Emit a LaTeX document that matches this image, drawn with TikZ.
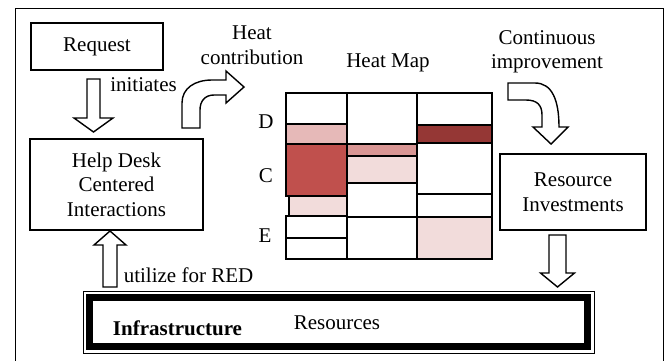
\documentclass[tikz,border=0pt]{standalone}
\usepackage{fontspec}
\setmainfont{Liberation Serif}
\usetikzlibrary{arrows,calc,positioning}

\definecolor{heatlight}{HTML}{F2DCDB}
\definecolor{heatpale}{HTML}{E6B9B8}
\definecolor{heatmid}{HTML}{D99694}
\definecolor{heatred}{HTML}{C0504D}
\definecolor{heatdark}{HTML}{953735}

\tikzset{
  box/.style={draw, line width=1.5pt, inner sep=0pt, outer sep=0pt, align=center},
  lbl/.style={inner sep=0pt, align=center},
  blockarrow/.style={draw, line width=1.4pt, fill=white, line join=miter},
  cell/.style={draw, line width=2.2pt},
}

% vertical block arrow: from #1 to #2, shaft half width #3, head half width #4
\newcommand{\vblock}[4]{%
  \draw[blockarrow] let \p1=(#1), \p2=(#2), \n1={(\y2-\y1)/abs(\y2-\y1)} in
    (\x1-#3pt,\y1) -- (\x1-#3pt,\y2-\n1*14pt) -- (\x1-#4pt,\y2-\n1*14pt) -- (\x2,\y2)
    -- (\x1+#4pt,\y2-\n1*14pt) -- (\x1+#3pt,\y2-\n1*14pt) -- (\x1+#3pt,\y1) -- cycle;}

\begin{document}
\begin{tikzpicture}[x=1pt,y=-1pt,font=\fontsize{21}{24.5}\selectfont]
  \useasboundingbox (0,0) rectangle (667,360);
  \draw[line width=1pt] (15,8) rectangle (663,364);

  			\node[box, minimum width=132, minimum height=47]  (req) at (97,46.5) {Request};
  			\node[box, minimum width=173, minimum height=91]  (help) at (116.5,184.5) {Help Desk\\Centered\\Interactions};
            \node[box, minimum width=146, minimum height=76]  (invest) at (573,192) {Resource\\Investments};
            \node[box, line width=7pt, minimum width=498, minimum height=49] (infra) at (338.5,322) {};
            \draw[line width=1pt] ($(infra.north west)+(-6.5,-6.5)$) rectangle ($(infra.south east)+(6.5,6.5)$);

            \node[lbl, font=\fontsize{21}{24.5}\selectfont\bfseries] (infratxt) at (177.5,328) {Infrastructure};
            \node[lbl] (restxt) at (337,323) {Resources};

            \node[lbl] (initiates) at (143.5,85) {initiates};
            \node[lbl] (contrib) at (252,45) {Heat\\contribution};
            \node[lbl] (maptitle) at (388,63) {Heat Map};
            \node[lbl] (improve) at (547,52) {Continuous\\improvement};
            \node[lbl] (utilize) at (188.5,275) {utilize for RED};

  % heat map cells
  \foreach \xa/\ya/\xb/\yb/\col in {
      286/93/347/124/white, 286/124/347/144/heatpale, 286/144/347/196/heatred,
      289/196/347/216/heatlight, 286/216/347/238/white, 286/238/347/259/white,
      347/93/417/144/white, 347/144/417/156/heatmid, 347/156/417/183/heatlight,
      347/183/417/217/white, 347/217/417/259/white,
      417/93/492/125/white, 417/125/492/143/heatdark, 417/143/492/194/white,
      417/194/492/217/white, 417/217/492/259/heatlight}
    \draw[cell, fill=\col] (\xa,\ya) rectangle (\xb,\yb);

            \node[lbl] (rowD) at (266,122) {D};
            \node[lbl] (rowC) at (266,176) {C};
            \node[lbl] (rowE) at (265,236) {E};

  % block arrows
  \coordinate (a1) at (93.5,79);   \coordinate (a2) at (93.5,132);
  \coordinate (b1) at (110,287);   \coordinate (b2) at (110,231);
  \coordinate (c1) at (557.5,235); \coordinate (c2) at (557.5,287);
  \vblock{a1}{a2}{6.5}{19.5}
  \vblock{b1}{b2}{7}{16}
  \vblock{c1}{c2}{8.5}{17}

  \draw[blockarrow] (182,128) -- (182,103) .. controls (182,88) and (195,80) .. (212,80) -- (226,80)
    -- (226,71) -- (244,87) -- (226,103) -- (226,95) -- (214,95)
    .. controls (205,95) and (200,101) .. (200,110) -- (200,128) -- cycle;
  \draw[blockarrow] (508,83) -- (535,83) .. controls (552,83) and (559,100) .. (559,127)
    -- (568,127) -- (551,144) -- (533,127) -- (542,127) -- (542,115)
    .. controls (542,105) and (537,100) .. (526,100) -- (508,100) -- cycle;
\end{tikzpicture}
\end{document}
